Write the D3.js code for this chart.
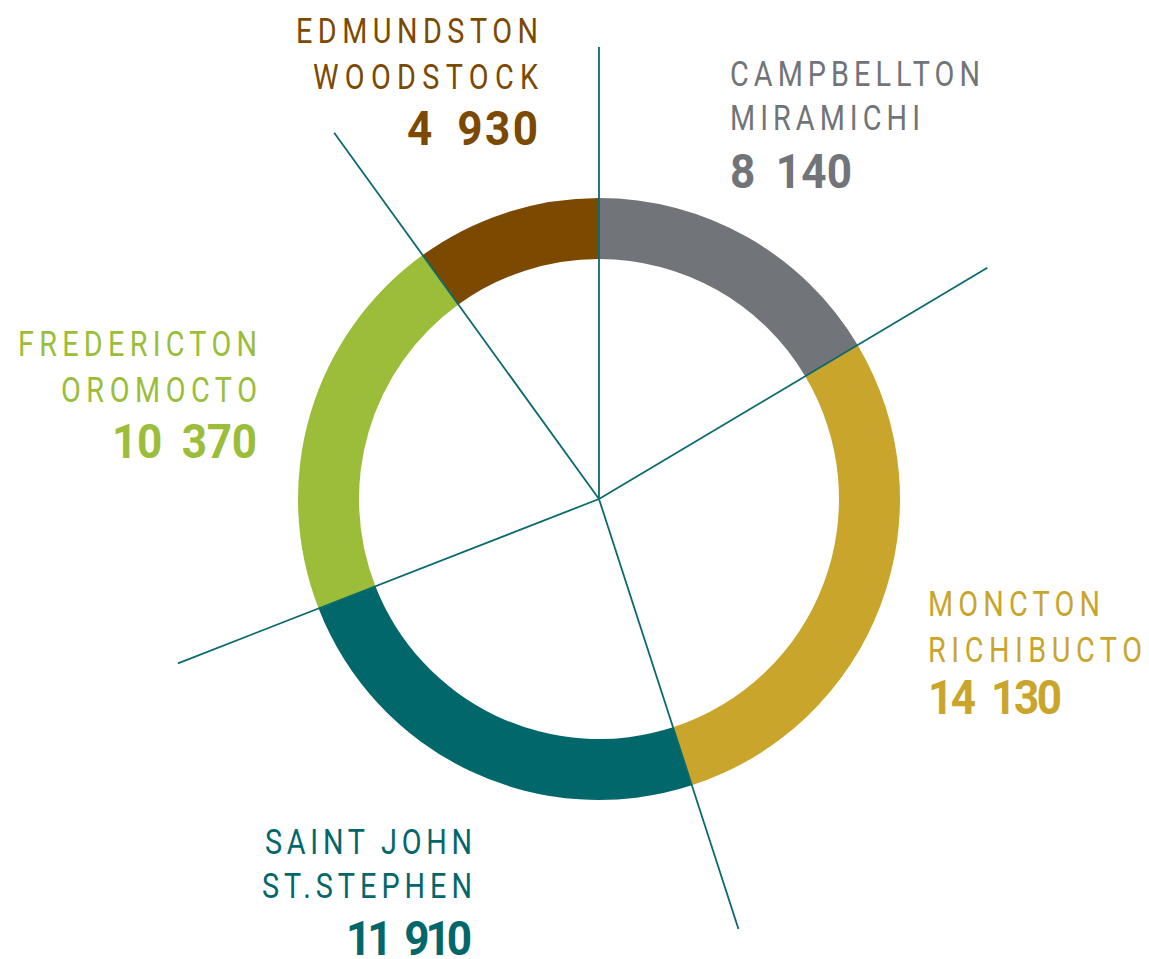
<!DOCTYPE html>
<html>
<head>
<meta charset="utf-8">
<script src="https://cdn.jsdelivr.net/npm/d3@7"></script>
<style>
  html, body { margin: 0; padding: 0; background: #ffffff; }
  svg { display: block; }
  text { font-family: Roboto, "DejaVu Sans", sans-serif; }
</style>
</head>
<body>
<svg id="chart" width="1149" height="959"></svg>
<script>
// ---- data ----
const regionsLine1 = ["CAMPBELLTON", "MONCTON", "SAINT JOHN", "FREDERICTON", "EDMUNDSTON"];
const regionsLine2 = ["MIRAMICHI", "RICHIBUCTO", "ST.STEPHEN", "OROMOCTO", "WOODSTOCK"];
const values = [8140, 14130, 11910, 10370, 4930];
const valueLabels = ["8 140", "14 130", "11 910", "10 370", "4 930"];
const colors = ["#717478", "#c9a52c", "#02676a", "#9bbd3a", "#7b4a00"];

// ---- layout (not data) ----
const cx = 599, cy = 499;
const rOuter = 301, rInner = 240, rLine = 452;
const lineColor = "#0b6a6d";
const sx = 0.8; // horizontal condensing of the label font
const labelLayout = [
  { x: 730, anchor: "start", y: [86, 130, 188], w: [250, 190, 122] },
  { x: 928, anchor: "start", y: [616, 662, 714], w: [172, 214, 134] },
  { x: 472, anchor: "end",   y: [854, 898, 955], w: [207, 210, 126] },
  { x: 257, anchor: "end",   y: [356, 402, 458], w: [239, 196, 145] },
  { x: 538, anchor: "end",   y: [43, 89, 145],   w: [242, 225, 131] }
];

const svg = d3.select("#chart");
const g = svg.append("g").attr("transform", `translate(${cx},${cy})`);

const pie = d3.pie().sort(null).value(d => d)(values);
const arc = d3.arc().innerRadius(rInner).outerRadius(rOuter);

g.selectAll("path.slice")
  .data(pie)
  .join("path")
  .attr("class", "slice")
  .attr("d", arc)
  .attr("fill", (d, i) => colors[i]);

g.selectAll("line.spoke")
  .data(pie)
  .join("line")
  .attr("class", "spoke")
  .attr("x1", 0).attr("y1", 0)
  .attr("x2", d => rLine * Math.sin(d.startAngle))
  .attr("y2", d => -rLine * Math.cos(d.startAngle))
  .attr("stroke", lineColor)
  .attr("stroke-width", 1.8);

const lbl = svg.append("g");
values.forEach((v, i) => {
  const L = labelLayout[i];
  const texts = [regionsLine1[i], regionsLine2[i], valueLabels[i]];
  texts.forEach((t, j) => {
    const isVal = j === 2;
    const s = isVal ? 0.9 : sx;
    lbl.append("g")
      .attr("transform", `translate(${L.x},${L.y[j]}) scale(${s},1)`)
      .append("text")
      .attr("x", 0)
      .attr("y", 0)
      .attr("text-anchor", L.anchor)
      .attr("fill", colors[i])
      .attr("font-size", isVal ? 49 : 36)
      .attr("font-weight", isVal ? 700 : 400)
      .style("word-spacing", isVal ? "10px" : "0px")
      .attr("textLength", L.w[j] / s)
      .attr("lengthAdjust", "spacing")
      .text(t);
  });
});
</script>
</body>
</html>
